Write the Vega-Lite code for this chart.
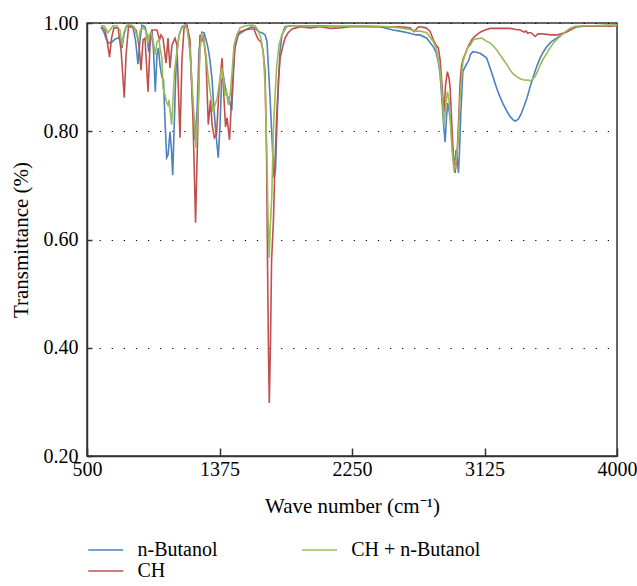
{
  "$schema": "https://vega.github.io/schema/vega-lite/v6.json",
  "width": 530,
  "height": 433,
  "autosize": {"type": "none"},
  "padding": {"left": 87, "top": 23, "right": 20, "bottom": 130},
  "background": "white",
  "config": {
    "font": "Liberation Serif",
    "view": {"stroke": "#333", "strokeWidth": 1.5},
    "axis": {"labelFont": "Liberation Serif", "titleFont": "Liberation Serif", "labelColor": "black", "titleColor": "black", "labelFontSize": 20, "titleFontSize": 21, "titleFontWeight": "normal", "domainColor": "#333", "domainWidth": 1.5, "tickColor": "#333", "tickWidth": 1.5},
    "legend": {"labelFont": "Liberation Serif", "labelFontSize": 20, "labelColor": "black"}
  },
  "data": {"values": [
    {"s":"n-Butanol","w":592,"t":0.993},{"s":"n-Butanol","w":612,"t":0.983},{"s":"n-Butanol","w":629,"t":0.969},{"s":"n-Butanol","w":643,"t":0.963},{"s":"n-Butanol","w":665,"t":0.965},{"s":"n-Butanol","w":685,"t":0.970},{"s":"n-Butanol","w":709,"t":0.973},{"s":"n-Butanol","w":721,"t":0.969},{"s":"n-Butanol","w":731,"t":0.954},{"s":"n-Butanol","w":744,"t":0.978},{"s":"n-Butanol","w":758,"t":0.993},{"s":"n-Butanol","w":777,"t":0.996},{"s":"n-Butanol","w":804,"t":0.991},{"s":"n-Butanol","w":820,"t":0.969},{"s":"n-Butanol","w":837,"t":0.924},{"s":"n-Butanol","w":850,"t":0.969},{"s":"n-Butanol","w":863,"t":0.996},{"s":"n-Butanol","w":883,"t":0.993},{"s":"n-Butanol","w":896,"t":0.978},{"s":"n-Butanol","w":908,"t":0.946},{"s":"n-Butanol","w":919,"t":0.978},{"s":"n-Butanol","w":929,"t":0.987},{"s":"n-Butanol","w":939,"t":0.950},{"s":"n-Butanol","w":951,"t":0.873},{"s":"n-Butanol","w":962,"t":0.941},{"s":"n-Butanol","w":972,"t":0.954},{"s":"n-Butanol","w":982,"t":0.922},{"s":"n-Butanol","w":995,"t":0.900},{"s":"n-Butanol","w":1005,"t":0.895},{"s":"n-Butanol","w":1015,"t":0.821},{"s":"n-Butanol","w":1026,"t":0.751},{"s":"n-Butanol","w":1035,"t":0.756},{"s":"n-Butanol","w":1048,"t":0.799},{"s":"n-Butanol","w":1058,"t":0.765},{"s":"n-Butanol","w":1066,"t":0.719},{"s":"n-Butanol","w":1075,"t":0.802},{"s":"n-Butanol","w":1085,"t":0.895},{"s":"n-Butanol","w":1092,"t":0.941},{"s":"n-Butanol","w":1108,"t":0.978},{"s":"n-Butanol","w":1127,"t":0.993},{"s":"n-Butanol","w":1147,"t":0.996},{"s":"n-Butanol","w":1167,"t":0.987},{"s":"n-Butanol","w":1184,"t":0.932},{"s":"n-Butanol","w":1200,"t":0.839},{"s":"n-Butanol","w":1213,"t":0.784},{"s":"n-Butanol","w":1227,"t":0.839},{"s":"n-Butanol","w":1240,"t":0.950},{"s":"n-Butanol","w":1258,"t":0.983},{"s":"n-Butanol","w":1273,"t":0.982},{"s":"n-Butanol","w":1286,"t":0.969},{"s":"n-Butanol","w":1299,"t":0.954},{"s":"n-Butanol","w":1312,"t":0.932},{"s":"n-Butanol","w":1326,"t":0.895},{"s":"n-Butanol","w":1339,"t":0.839},{"s":"n-Butanol","w":1352,"t":0.793},{"s":"n-Butanol","w":1367,"t":0.751},{"s":"n-Butanol","w":1378,"t":0.808},{"s":"n-Butanol","w":1388,"t":0.886},{"s":"n-Butanol","w":1398,"t":0.908},{"s":"n-Butanol","w":1411,"t":0.884},{"s":"n-Butanol","w":1425,"t":0.867},{"s":"n-Butanol","w":1438,"t":0.858},{"s":"n-Butanol","w":1456,"t":0.839},{"s":"n-Butanol","w":1468,"t":0.913},{"s":"n-Butanol","w":1477,"t":0.954},{"s":"n-Butanol","w":1499,"t":0.978},{"s":"n-Butanol","w":1524,"t":0.983},{"s":"n-Butanol","w":1557,"t":0.989},{"s":"n-Butanol","w":1588,"t":0.993},{"s":"n-Butanol","w":1610,"t":0.991},{"s":"n-Butanol","w":1632,"t":0.984},{"s":"n-Butanol","w":1656,"t":0.982},{"s":"n-Butanol","w":1676,"t":0.978},{"s":"n-Butanol","w":1689,"t":0.965},{"s":"n-Butanol","w":1699,"t":0.913},{"s":"n-Butanol","w":1709,"t":0.862},{"s":"n-Butanol","w":1719,"t":0.802},{"s":"n-Butanol","w":1727,"t":0.756},{"s":"n-Butanol","w":1735,"t":0.714},{"s":"n-Butanol","w":1745,"t":0.729},{"s":"n-Butanol","w":1755,"t":0.821},{"s":"n-Butanol","w":1765,"t":0.895},{"s":"n-Butanol","w":1775,"t":0.950},{"s":"n-Butanol","w":1788,"t":0.978},{"s":"n-Butanol","w":1808,"t":0.993},{"s":"n-Butanol","w":1841,"t":0.995},{"s":"n-Butanol","w":1907,"t":0.995},{"s":"n-Butanol","w":2039,"t":0.995},{"s":"n-Butanol","w":2171,"t":0.994},{"s":"n-Butanol","w":2303,"t":0.994},{"s":"n-Butanol","w":2435,"t":0.993},{"s":"n-Butanol","w":2521,"t":0.987},{"s":"n-Butanol","w":2567,"t":0.985},{"s":"n-Butanol","w":2633,"t":0.981},{"s":"n-Butanol","w":2673,"t":0.978},{"s":"n-Butanol","w":2699,"t":0.978},{"s":"n-Butanol","w":2744,"t":0.972},{"s":"n-Butanol","w":2787,"t":0.956},{"s":"n-Butanol","w":2805,"t":0.946},{"s":"n-Butanol","w":2820,"t":0.928},{"s":"n-Butanol","w":2832,"t":0.904},{"s":"n-Butanol","w":2843,"t":0.862},{"s":"n-Butanol","w":2855,"t":0.812},{"s":"n-Butanol","w":2865,"t":0.780},{"s":"n-Butanol","w":2875,"t":0.830},{"s":"n-Butanol","w":2883,"t":0.852},{"s":"n-Butanol","w":2891,"t":0.839},{"s":"n-Butanol","w":2903,"t":0.812},{"s":"n-Butanol","w":2911,"t":0.775},{"s":"n-Butanol","w":2920,"t":0.747},{"s":"n-Butanol","w":2931,"t":0.747},{"s":"n-Butanol","w":2937,"t":0.765},{"s":"n-Butanol","w":2946,"t":0.747},{"s":"n-Butanol","w":2953,"t":0.723},{"s":"n-Butanol","w":2960,"t":0.765},{"s":"n-Butanol","w":2968,"t":0.830},{"s":"n-Butanol","w":2982,"t":0.910},{"s":"n-Butanol","w":2997,"t":0.919},{"s":"n-Butanol","w":3010,"t":0.926},{"s":"n-Butanol","w":3023,"t":0.932},{"s":"n-Butanol","w":3030,"t":0.941},{"s":"n-Butanol","w":3048,"t":0.947},{"s":"n-Butanol","w":3069,"t":0.946},{"s":"n-Butanol","w":3096,"t":0.944},{"s":"n-Butanol","w":3122,"t":0.939},{"s":"n-Butanol","w":3140,"t":0.935},{"s":"n-Butanol","w":3162,"t":0.917},{"s":"n-Butanol","w":3182,"t":0.900},{"s":"n-Butanol","w":3206,"t":0.879},{"s":"n-Butanol","w":3228,"t":0.863},{"s":"n-Butanol","w":3250,"t":0.849},{"s":"n-Butanol","w":3275,"t":0.836},{"s":"n-Butanol","w":3294,"t":0.827},{"s":"n-Butanol","w":3314,"t":0.821},{"s":"n-Butanol","w":3327,"t":0.819},{"s":"n-Butanol","w":3347,"t":0.822},{"s":"n-Butanol","w":3367,"t":0.832},{"s":"n-Butanol","w":3387,"t":0.847},{"s":"n-Butanol","w":3405,"t":0.861},{"s":"n-Butanol","w":3426,"t":0.882},{"s":"n-Butanol","w":3448,"t":0.901},{"s":"n-Butanol","w":3469,"t":0.919},{"s":"n-Butanol","w":3492,"t":0.935},{"s":"n-Butanol","w":3512,"t":0.946},{"s":"n-Butanol","w":3536,"t":0.956},{"s":"n-Butanol","w":3565,"t":0.965},{"s":"n-Butanol","w":3602,"t":0.972},{"s":"n-Butanol","w":3631,"t":0.978},{"s":"n-Butanol","w":3668,"t":0.984},{"s":"n-Butanol","w":3697,"t":0.990},{"s":"n-Butanol","w":3723,"t":0.993},{"s":"n-Butanol","w":3789,"t":0.994},{"s":"n-Butanol","w":3855,"t":0.995},{"s":"n-Butanol","w":3921,"t":0.995},{"s":"n-Butanol","w":4000,"t":0.996},

    {"s":"CH","w":599,"t":0.993},{"s":"CH","w":619,"t":0.987},{"s":"CH","w":632,"t":0.969},{"s":"CH","w":649,"t":0.937},{"s":"CH","w":662,"t":0.972},{"s":"CH","w":678,"t":0.991},{"s":"CH","w":705,"t":0.991},{"s":"CH","w":725,"t":0.950},{"s":"CH","w":746,"t":0.862},{"s":"CH","w":758,"t":0.941},{"s":"CH","w":774,"t":0.993},{"s":"CH","w":804,"t":0.993},{"s":"CH","w":824,"t":0.987},{"s":"CH","w":843,"t":0.959},{"s":"CH","w":857,"t":0.913},{"s":"CH","w":870,"t":0.969},{"s":"CH","w":883,"t":0.972},{"s":"CH","w":903,"t":0.873},{"s":"CH","w":916,"t":0.959},{"s":"CH","w":929,"t":0.987},{"s":"CH","w":962,"t":0.987},{"s":"CH","w":979,"t":0.969},{"s":"CH","w":989,"t":0.978},{"s":"CH","w":1002,"t":0.972},{"s":"CH","w":1022,"t":0.926},{"s":"CH","w":1035,"t":0.972},{"s":"CH","w":1048,"t":0.917},{"s":"CH","w":1061,"t":0.959},{"s":"CH","w":1081,"t":0.972},{"s":"CH","w":1094,"t":0.959},{"s":"CH","w":1114,"t":0.788},{"s":"CH","w":1127,"t":0.932},{"s":"CH","w":1141,"t":0.991},{"s":"CH","w":1160,"t":0.996},{"s":"CH","w":1180,"t":0.969},{"s":"CH","w":1200,"t":0.821},{"s":"CH","w":1217,"t":0.631},{"s":"CH","w":1233,"t":0.821},{"s":"CH","w":1246,"t":0.978},{"s":"CH","w":1258,"t":0.965},{"s":"CH","w":1268,"t":0.978},{"s":"CH","w":1286,"t":0.932},{"s":"CH","w":1301,"t":0.812},{"s":"CH","w":1316,"t":0.858},{"s":"CH","w":1326,"t":0.812},{"s":"CH","w":1341,"t":0.788},{"s":"CH","w":1355,"t":0.793},{"s":"CH","w":1372,"t":0.876},{"s":"CH","w":1392,"t":0.935},{"s":"CH","w":1405,"t":0.858},{"s":"CH","w":1415,"t":0.808},{"s":"CH","w":1425,"t":0.825},{"s":"CH","w":1441,"t":0.784},{"s":"CH","w":1458,"t":0.876},{"s":"CH","w":1474,"t":0.950},{"s":"CH","w":1491,"t":0.976},{"s":"CH","w":1511,"t":0.984},{"s":"CH","w":1544,"t":0.987},{"s":"CH","w":1577,"t":0.989},{"s":"CH","w":1603,"t":0.989},{"s":"CH","w":1620,"t":0.976},{"s":"CH","w":1633,"t":0.969},{"s":"CH","w":1649,"t":0.965},{"s":"CH","w":1662,"t":0.950},{"s":"CH","w":1676,"t":0.910},{"s":"CH","w":1686,"t":0.747},{"s":"CH","w":1692,"t":0.562},{"s":"CH","w":1699,"t":0.378},{"s":"CH","w":1704,"t":0.298},{"s":"CH","w":1712,"t":0.415},{"s":"CH","w":1719,"t":0.562},{"s":"CH","w":1731,"t":0.633},{"s":"CH","w":1742,"t":0.747},{"s":"CH","w":1753,"t":0.830},{"s":"CH","w":1765,"t":0.895},{"s":"CH","w":1775,"t":0.935},{"s":"CH","w":1795,"t":0.959},{"s":"CH","w":1808,"t":0.972},{"s":"CH","w":1828,"t":0.982},{"s":"CH","w":1854,"t":0.989},{"s":"CH","w":1880,"t":0.991},{"s":"CH","w":1907,"t":0.993},{"s":"CH","w":1973,"t":0.991},{"s":"CH","w":2039,"t":0.993},{"s":"CH","w":2105,"t":0.990},{"s":"CH","w":2171,"t":0.991},{"s":"CH","w":2237,"t":0.993},{"s":"CH","w":2303,"t":0.993},{"s":"CH","w":2369,"t":0.993},{"s":"CH","w":2435,"t":0.993},{"s":"CH","w":2501,"t":0.993},{"s":"CH","w":2567,"t":0.993},{"s":"CH","w":2633,"t":0.991},{"s":"CH","w":2660,"t":0.984},{"s":"CH","w":2686,"t":0.992},{"s":"CH","w":2699,"t":0.993},{"s":"CH","w":2739,"t":0.991},{"s":"CH","w":2765,"t":0.985},{"s":"CH","w":2787,"t":0.969},{"s":"CH","w":2805,"t":0.959},{"s":"CH","w":2820,"t":0.954},{"s":"CH","w":2832,"t":0.932},{"s":"CH","w":2843,"t":0.891},{"s":"CH","w":2851,"t":0.858},{"s":"CH","w":2858,"t":0.836},{"s":"CH","w":2868,"t":0.886},{"s":"CH","w":2880,"t":0.910},{"s":"CH","w":2891,"t":0.898},{"s":"CH","w":2898,"t":0.880},{"s":"CH","w":2911,"t":0.802},{"s":"CH","w":2919,"t":0.756},{"s":"CH","w":2931,"t":0.723},{"s":"CH","w":2937,"t":0.738},{"s":"CH","w":2946,"t":0.769},{"s":"CH","w":2957,"t":0.839},{"s":"CH","w":2964,"t":0.891},{"s":"CH","w":2974,"t":0.922},{"s":"CH","w":2985,"t":0.935},{"s":"CH","w":3003,"t":0.946},{"s":"CH","w":3016,"t":0.956},{"s":"CH","w":3041,"t":0.969},{"s":"CH","w":3063,"t":0.976},{"s":"CH","w":3096,"t":0.983},{"s":"CH","w":3129,"t":0.987},{"s":"CH","w":3162,"t":0.990},{"s":"CH","w":3228,"t":0.990},{"s":"CH","w":3294,"t":0.990},{"s":"CH","w":3334,"t":0.988},{"s":"CH","w":3360,"t":0.987},{"s":"CH","w":3387,"t":0.983},{"s":"CH","w":3400,"t":0.985},{"s":"CH","w":3410,"t":0.981},{"s":"CH","w":3419,"t":0.982},{"s":"CH","w":3433,"t":0.982},{"s":"CH","w":3459,"t":0.975},{"s":"CH","w":3479,"t":0.980},{"s":"CH","w":3499,"t":0.980},{"s":"CH","w":3536,"t":0.979},{"s":"CH","w":3565,"t":0.978},{"s":"CH","w":3602,"t":0.978},{"s":"CH","w":3631,"t":0.980},{"s":"CH","w":3664,"t":0.983},{"s":"CH","w":3690,"t":0.987},{"s":"CH","w":3734,"t":0.993},{"s":"CH","w":3776,"t":0.994},{"s":"CH","w":3822,"t":0.994},{"s":"CH","w":3869,"t":0.994},{"s":"CH","w":3908,"t":0.995},{"s":"CH","w":3954,"t":0.994},{"s":"CH","w":4000,"t":0.995},

    {"s":"CH + n-Butanol","w":592,"t":0.995},{"s":"CH + n-Butanol","w":612,"t":0.995},{"s":"CH + n-Butanol","w":625,"t":0.989},{"s":"CH + n-Butanol","w":639,"t":0.982},{"s":"CH + n-Butanol","w":652,"t":0.987},{"s":"CH + n-Butanol","w":672,"t":0.995},{"s":"CH + n-Butanol","w":698,"t":0.995},{"s":"CH + n-Butanol","w":718,"t":0.987},{"s":"CH + n-Butanol","w":731,"t":0.959},{"s":"CH + n-Butanol","w":744,"t":0.983},{"s":"CH + n-Butanol","w":764,"t":0.996},{"s":"CH + n-Butanol","w":791,"t":0.996},{"s":"CH + n-Butanol","w":810,"t":0.993},{"s":"CH + n-Butanol","w":827,"t":0.978},{"s":"CH + n-Butanol","w":841,"t":0.969},{"s":"CH + n-Butanol","w":853,"t":0.987},{"s":"CH + n-Butanol","w":870,"t":0.991},{"s":"CH + n-Butanol","w":886,"t":0.987},{"s":"CH + n-Butanol","w":900,"t":0.965},{"s":"CH + n-Butanol","w":910,"t":0.978},{"s":"CH + n-Butanol","w":923,"t":0.982},{"s":"CH + n-Butanol","w":936,"t":0.969},{"s":"CH + n-Butanol","w":951,"t":0.941},{"s":"CH + n-Butanol","w":962,"t":0.965},{"s":"CH + n-Butanol","w":976,"t":0.969},{"s":"CH + n-Butanol","w":982,"t":0.954},{"s":"CH + n-Butanol","w":995,"t":0.935},{"s":"CH + n-Butanol","w":1002,"t":0.880},{"s":"CH + n-Butanol","w":1015,"t":0.867},{"s":"CH + n-Butanol","w":1025,"t":0.854},{"s":"CH + n-Butanol","w":1035,"t":0.848},{"s":"CH + n-Butanol","w":1042,"t":0.858},{"s":"CH + n-Butanol","w":1052,"t":0.830},{"s":"CH + n-Butanol","w":1059,"t":0.812},{"s":"CH + n-Butanol","w":1068,"t":0.858},{"s":"CH + n-Butanol","w":1078,"t":0.913},{"s":"CH + n-Butanol","w":1092,"t":0.941},{"s":"CH + n-Butanol","w":1108,"t":0.978},{"s":"CH + n-Butanol","w":1127,"t":0.991},{"s":"CH + n-Butanol","w":1144,"t":0.995},{"s":"CH + n-Butanol","w":1160,"t":0.991},{"s":"CH + n-Butanol","w":1180,"t":0.950},{"s":"CH + n-Butanol","w":1200,"t":0.858},{"s":"CH + n-Butanol","w":1220,"t":0.769},{"s":"CH + n-Butanol","w":1233,"t":0.839},{"s":"CH + n-Butanol","w":1246,"t":0.950},{"s":"CH + n-Butanol","w":1258,"t":0.982},{"s":"CH + n-Butanol","w":1269,"t":0.972},{"s":"CH + n-Butanol","w":1286,"t":0.941},{"s":"CH + n-Butanol","w":1299,"t":0.904},{"s":"CH + n-Butanol","w":1312,"t":0.876},{"s":"CH + n-Butanol","w":1322,"t":0.858},{"s":"CH + n-Butanol","w":1334,"t":0.836},{"s":"CH + n-Butanol","w":1345,"t":0.849},{"s":"CH + n-Butanol","w":1358,"t":0.858},{"s":"CH + n-Butanol","w":1372,"t":0.886},{"s":"CH + n-Butanol","w":1390,"t":0.917},{"s":"CH + n-Butanol","w":1402,"t":0.895},{"s":"CH + n-Butanol","w":1411,"t":0.867},{"s":"CH + n-Butanol","w":1421,"t":0.873},{"s":"CH + n-Butanol","w":1433,"t":0.849},{"s":"CH + n-Butanol","w":1445,"t":0.867},{"s":"CH + n-Butanol","w":1458,"t":0.910},{"s":"CH + n-Butanol","w":1471,"t":0.959},{"s":"CH + n-Butanol","w":1489,"t":0.978},{"s":"CH + n-Butanol","w":1511,"t":0.991},{"s":"CH + n-Butanol","w":1544,"t":0.995},{"s":"CH + n-Butanol","w":1588,"t":0.996},{"s":"CH + n-Butanol","w":1610,"t":0.995},{"s":"CH + n-Butanol","w":1629,"t":0.987},{"s":"CH + n-Butanol","w":1649,"t":0.972},{"s":"CH + n-Butanol","w":1665,"t":0.941},{"s":"CH + n-Butanol","w":1676,"t":0.886},{"s":"CH + n-Butanol","w":1687,"t":0.769},{"s":"CH + n-Butanol","w":1696,"t":0.636},{"s":"CH + n-Butanol","w":1703,"t":0.566},{"s":"CH + n-Butanol","w":1709,"t":0.618},{"s":"CH + n-Butanol","w":1720,"t":0.677},{"s":"CH + n-Butanol","w":1731,"t":0.802},{"s":"CH + n-Butanol","w":1742,"t":0.867},{"s":"CH + n-Butanol","w":1753,"t":0.922},{"s":"CH + n-Butanol","w":1768,"t":0.959},{"s":"CH + n-Butanol","w":1786,"t":0.978},{"s":"CH + n-Butanol","w":1819,"t":0.993},{"s":"CH + n-Butanol","w":1854,"t":0.995},{"s":"CH + n-Butanol","w":1907,"t":0.995},{"s":"CH + n-Butanol","w":2039,"t":0.994},{"s":"CH + n-Butanol","w":2171,"t":0.994},{"s":"CH + n-Butanol","w":2303,"t":0.995},{"s":"CH + n-Butanol","w":2435,"t":0.994},{"s":"CH + n-Butanol","w":2501,"t":0.993},{"s":"CH + n-Butanol","w":2567,"t":0.991},{"s":"CH + n-Butanol","w":2633,"t":0.988},{"s":"CH + n-Butanol","w":2673,"t":0.985},{"s":"CH + n-Butanol","w":2699,"t":0.985},{"s":"CH + n-Butanol","w":2744,"t":0.982},{"s":"CH + n-Butanol","w":2787,"t":0.966},{"s":"CH + n-Butanol","w":2805,"t":0.954},{"s":"CH + n-Butanol","w":2818,"t":0.935},{"s":"CH + n-Butanol","w":2832,"t":0.910},{"s":"CH + n-Butanol","w":2845,"t":0.867},{"s":"CH + n-Butanol","w":2858,"t":0.812},{"s":"CH + n-Butanol","w":2868,"t":0.843},{"s":"CH + n-Butanol","w":2880,"t":0.873},{"s":"CH + n-Butanol","w":2891,"t":0.858},{"s":"CH + n-Butanol","w":2901,"t":0.812},{"s":"CH + n-Butanol","w":2911,"t":0.765},{"s":"CH + n-Butanol","w":2924,"t":0.725},{"s":"CH + n-Butanol","w":2934,"t":0.738},{"s":"CH + n-Butanol","w":2942,"t":0.756},{"s":"CH + n-Butanol","w":2951,"t":0.784},{"s":"CH + n-Butanol","w":2964,"t":0.862},{"s":"CH + n-Butanol","w":2982,"t":0.928},{"s":"CH + n-Butanol","w":2997,"t":0.941},{"s":"CH + n-Butanol","w":3013,"t":0.954},{"s":"CH + n-Butanol","w":3030,"t":0.959},{"s":"CH + n-Butanol","w":3052,"t":0.969},{"s":"CH + n-Butanol","w":3076,"t":0.971},{"s":"CH + n-Butanol","w":3107,"t":0.972},{"s":"CH + n-Butanol","w":3140,"t":0.966},{"s":"CH + n-Butanol","w":3162,"t":0.963},{"s":"CH + n-Butanol","w":3182,"t":0.958},{"s":"CH + n-Butanol","w":3206,"t":0.950},{"s":"CH + n-Butanol","w":3228,"t":0.941},{"s":"CH + n-Butanol","w":3250,"t":0.932},{"s":"CH + n-Butanol","w":3275,"t":0.922},{"s":"CH + n-Butanol","w":3294,"t":0.913},{"s":"CH + n-Butanol","w":3314,"t":0.906},{"s":"CH + n-Butanol","w":3338,"t":0.901},{"s":"CH + n-Butanol","w":3360,"t":0.897},{"s":"CH + n-Butanol","w":3382,"t":0.895},{"s":"CH + n-Butanol","w":3400,"t":0.894},{"s":"CH + n-Butanol","w":3413,"t":0.895},{"s":"CH + n-Butanol","w":3426,"t":0.893},{"s":"CH + n-Butanol","w":3440,"t":0.895},{"s":"CH + n-Butanol","w":3459,"t":0.901},{"s":"CH + n-Butanol","w":3476,"t":0.911},{"s":"CH + n-Butanol","w":3492,"t":0.922},{"s":"CH + n-Butanol","w":3512,"t":0.933},{"s":"CH + n-Butanol","w":3536,"t":0.944},{"s":"CH + n-Butanol","w":3558,"t":0.954},{"s":"CH + n-Butanol","w":3580,"t":0.963},{"s":"CH + n-Butanol","w":3604,"t":0.970},{"s":"CH + n-Butanol","w":3635,"t":0.978},{"s":"CH + n-Butanol","w":3664,"t":0.985},{"s":"CH + n-Butanol","w":3690,"t":0.990},{"s":"CH + n-Butanol","w":3723,"t":0.994},{"s":"CH + n-Butanol","w":3789,"t":0.995},{"s":"CH + n-Butanol","w":3855,"t":0.995},{"s":"CH + n-Butanol","w":3921,"t":0.996},{"s":"CH + n-Butanol","w":4000,"t":0.996}
  ]},
  "mark": {"type": "line", "strokeWidth": 1.6, "clip": true},
  "encoding": {
    "x": {"field": "w", "type": "quantitative", "title": "Wave number (cm⁻¹)",
      "scale": {"domain": [500, 4000], "nice": false, "zero": false},
      "axis": {"values": [500, 1375, 2250, 3125, 4000], "format": "d", "grid": false, "tickSize": -8, "labelPadding": 11, "titlePadding": 16, "labelFlush": false}},
    "y": {"field": "t", "type": "quantitative", "title": "Transmittance (%)",
      "scale": {"domain": [0.2, 1.0], "nice": false, "zero": false},
      "axis": {"values": [0.2, 0.4, 0.6, 0.8, 1.0], "format": ".2f", "tickSize": -5, "labelPadding": 14, "titlePadding": 12,
        "grid": true, "gridColor": "black", "gridWidth": 1.2, "gridDash": [1.2, 10.9], "gridOpacity": 1}},
    "color": {"field": "s", "type": "nominal",
      "scale": {"domain": ["n-Butanol", "CH + n-Butanol", "CH"], "range": ["#4f81bd", "#9bbb59", "#c0504d"]},
      "legend": {"title": null, "orient": "none", "legendX": 8.75, "legendY": 517, "columns": 2, "direction": "horizontal",
        "symbolType": "M-2,0H2", "symbolSize": 306, "symbolStrokeWidth": 1.5, "labelOffset": 21.75, "columnPadding": 80.75, "rowPadding": 1, "padding": 0}},
    "order": {"field": "w", "type": "quantitative"}
  }
}
